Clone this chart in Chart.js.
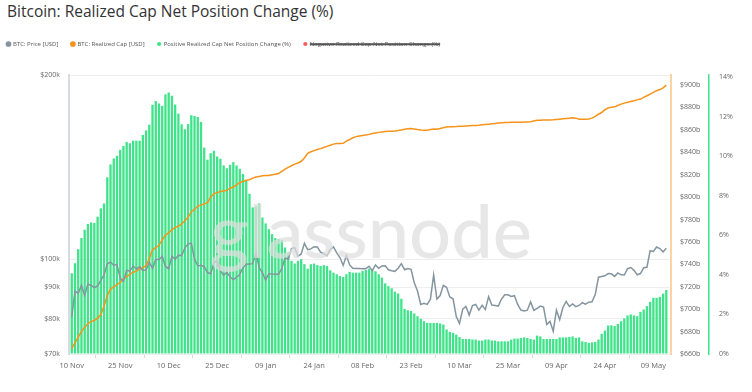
<!DOCTYPE html>
<html lang="en">
<head>
<meta charset="utf-8">
<title>Bitcoin: Realized Cap Net Position Change (%)</title>
<script src="https://cdn.jsdelivr.net/npm/chart.js"></script>
<style>
  html, body { margin: 0; padding: 0; background: #fff; overflow: hidden; }
  #wrap { position: relative; width: 752px; height: 392px; overflow: hidden; }
  #title { position: absolute; left: 7px; top: 0; font: 15.5px "Open Sans", sans-serif; color: #333; white-space: nowrap; }
  #chart { position: absolute; left: -6px; top: 0; }
</style>
</head>
<body>
<div id="wrap">
  <div id="title">Bitcoin: Realized Cap Net Position Change (%)</div>
  <canvas id="chart" width="758" height="392"></canvas>
</div>
<script>
// daily values, 10 Nov 2024 .. 13 May 2025 (index 0 = 10 Nov)
const startDate = '2024-11-10';
const tickLabels = ['10 Nov', '25 Nov', '10 Dec', '25 Dec', '09 Jan', '24 Jan', '08 Feb',
  '23 Feb', '10 Mar', '25 Mar', '09 Apr', '24 Apr', '09 May'];
const priceTicks = [70000, 80000, 90000, 100000, 200000];

// BTC price, USD
const price = [
  80470, 88700, 87950, 90580, 87250, 91070, 90600, 89850, 90460, 92310,
  94290, 98320, 98900, 97780, 98010, 93100, 91990, 95900, 95640, 97460,
  96400, 97200, 95840, 96000, 98770, 96590, 99920, 99920, 101170, 97320,
  96490, 101130, 100040, 101460, 101370, 104300, 106030, 106140, 100040, 97490,
  97760, 97220, 95100, 94690, 98680, 99430, 95800, 94160, 95160, 93530,
  92640, 93430, 94420, 96890, 98110, 98240, 98350, 102260, 96920, 95040,
  92490, 94700, 94570, 94490, 94510, 96530, 100500, 99990, 104080, 104450,
  101090, 102000, 106150, 103650, 103960, 104820, 104710, 102680, 102090, 101330,
  103730, 104740, 102410, 100650, 97690, 101400, 97870, 96620, 96550, 96530,
  96480, 96500, 97400, 95770, 97870, 96620, 97510, 97570, 96120, 95780,
  95540, 96640, 98330, 96130, 96570, 96280, 91550, 88740, 84350, 84700,
  84370, 86030, 94250, 86060, 87220, 90620, 89960, 86740, 86150, 80600,
  78530, 82860, 83720, 81070, 83970, 84340, 82580, 84080, 82720, 86850,
  84170, 84040, 83830, 86080, 87500, 87470, 86900, 87180, 84350, 82600,
  82330, 82550, 85170, 82490, 83100, 83840, 83500, 78210, 79140, 76270,
  82570, 79630, 83400, 85290, 83740, 84540, 83670, 84030, 84900, 84450,
  85060, 85170, 87520, 93440, 93700, 93940, 94720, 94650, 93750, 94980,
  94280, 94200, 96490, 96910, 95890, 94320, 94750, 96830, 97030, 103260,
  102970, 104700, 104110, 102800, 104170
];

// realized cap, billions USD
const realizedCap = [
  665, 670, 675, 680, 684, 687, 689, 690, 692, 695,
  703, 712, 718, 720, 722, 724, 727, 729, 731, 733,
  734, 736, 737, 739, 745, 753, 755, 757, 762, 766,
  768, 771, 773, 774, 776, 779, 782, 787, 789, 792,
  793, 794, 795, 800, 803, 804, 805, 805.5, 806, 808,
  809, 811, 813, 814, 815, 815.5, 817, 818, 818.5, 819,
  819.2, 819.4, 820, 820.5, 821, 823, 825, 826.5, 828, 829.5,
  830.5, 832, 835, 839, 840.5, 841.5, 842.5, 843.3, 844.3, 845.3,
  846.3, 847.3, 847.8, 847.9, 848, 850, 851.4, 853, 854, 854.5,
  855, 855.5, 856, 856.8, 857.3, 857.8, 858.2, 858.5, 858.7, 858.9,
  859.1, 859.5, 860, 860.5, 861, 861.2, 860.8, 860.3, 859.9, 859.7,
  859.7, 860.3, 860.8, 860.6, 861.2, 862, 862.7, 862.8, 862.9, 863,
  863.2, 863.3, 863.5, 863.7, 863.9, 864, 864.2, 864.5, 864.8, 865.1,
  865.4, 865.7, 866.1, 866.4, 866.6, 866.7, 866.8, 866.8, 866.8, 866.9,
  867, 867.1, 867.3, 868, 868.7, 868.7, 868.8, 868.8, 868.9, 869,
  869.3, 869.6, 869.9, 870.2, 870.5, 870.8, 870.5, 869.6, 869.5, 869.6,
  869.8, 870.5, 872, 874, 875.5, 878, 879.6, 880.2, 880.6, 881.8,
  883, 883.9, 884.6, 885.4, 886, 886.8, 887.5, 889, 890.5, 892,
  893.5, 895, 896, 897.5, 900
];

// positive realized cap net position change, %
const positiveChange = [
  4.08, 4.59, 5.30, 5.86, 6.28, 6.57, 6.65, 6.62, 6.94, 7.36,
  7.61, 8.93, 9.58, 9.88, 10.02, 10.32, 10.51, 10.71, 10.65, 10.78,
  10.78, 10.78, 11.07, 11.30, 11.59, 12.59, 12.78, 12.66, 12.54, 13.13,
  13.22, 13.05, 12.61, 12.15, 11.61, 11.36, 11.62, 12.07, 12.03, 11.98,
  11.73, 10.43, 9.82, 10.15, 10.27, 9.98, 9.87, 9.53, 9.39, 9.56,
  9.70, 9.53, 9.36, 9.10, 8.75, 8.10, 7.41, 7.46, 7.61, 6.90,
  6.60, 6.31, 6.06, 5.86, 5.81, 5.76, 5.38, 5.13, 4.71, 4.57,
  4.71, 4.79, 4.54, 4.31, 4.54, 4.57, 4.49, 4.45, 4.49, 4.45,
  4.23, 4.11, 4.03, 3.94, 3.89, 4.03, 4.15, 4.11, 4.11, 4.11,
  4.20, 4.25, 4.31, 4.25, 4.18, 4.03, 3.86, 3.57, 3.43, 3.32,
  3.15, 3.06, 2.79, 2.28, 2.21, 2.17, 2.05, 1.91, 1.78, 1.66,
  1.57, 1.57, 1.57, 1.57, 1.54, 1.49, 1.24, 1.12, 1.07, 0.98,
  0.86, 0.76, 0.76, 0.76, 0.73, 0.73, 0.68, 0.68, 0.73, 0.73,
  0.68, 0.68, 0.64, 0.64, 0.64, 0.64, 0.73, 0.78, 0.78, 0.81,
  0.84, 0.81, 0.76, 0.73, 0.93, 0.89, 0.76, 0.76, 0.76, 0.76,
  0.76, 0.84, 0.84, 0.84, 0.86, 0.89, 0.81, 0.84, 0.64, 0.61,
  0.56, 0.59, 0.61, 0.73, 1.02, 1.19, 1.44, 1.45, 1.41, 1.52,
  1.66, 1.80, 1.95, 2.00, 1.95, 1.91, 2.13, 2.25, 2.42, 2.64,
  2.84, 2.84, 2.89, 3.05, 3.23
];

// no negative days in this window
const negativeChange = [];

const FONT = 'Open Sans';
const toXY = arr => arr.map((v, i) => ({ x: i, y: v }));

const watermark = {
  id: 'watermark',
  afterDatasetsDraw(chart) {
    const ctx = chart.ctx;
    ctx.save();
    ctx.font = '500 74px Lato';
    ctx.fillStyle = 'rgba(222, 222, 222, 0.72)';
    ctx.textAlign = 'center';
    ctx.fillText('glassnode', 377, 234);
    ctx.restore();
  }
};

// push the plot down below the legend
const legendGap = {
  id: 'legendGap',
  beforeInit(chart) {
    const fit = chart.legend.fit;
    chart.legend.fit = function () {
      fit.call(this);
      this.height += 18;
    };
  }
};

new Chart(document.getElementById('chart'), {
  type: 'bar',
  data: {
    datasets: [
      {
        type: 'line', label: 'BTC: Price [USD]', data: toXY(price), yAxisID: 'y',
        borderColor: '#8595a0', backgroundColor: '#8595a0', borderWidth: 1.5,
        pointRadius: 0, tension: 0
      },
      {
        type: 'line', label: 'BTC: Realized Cap [USD]', data: toXY(realizedCap), yAxisID: 'y1',
        borderColor: '#f7931a', backgroundColor: '#f7931a', borderWidth: 1.5,
        pointRadius: 0, tension: 0
      },
      {
        label: 'Positive Realized Cap Net Position Change (%)', data: toXY(positiveChange), yAxisID: 'y2',
        backgroundColor: '#40e38a', borderWidth: 0, barPercentage: 0.72, categoryPercentage: 1
      },
      {
        label: 'Negative Realized Cap Net Position Change (%)', data: toXY(negativeChange), yAxisID: 'y2',
        backgroundColor: '#f25f5c', borderWidth: 0, hidden: true
      }
    ]
  },
  options: {
    responsive: false,
    animation: false,
    layout: { padding: { top: 28, bottom: 19, left: 0, right: 0 } },
    plugins: {
      tooltip: { enabled: false },
      legend: {
        position: 'top',
        align: 'start',
        labels: {
          usePointStyle: true, pointStyle: 'circle', boxWidth: 3, boxHeight: 3,
          padding: 13, color: '#555', font: { family: FONT, size: 6 }
        }
      }
    },
    scales: {
      x: {
        type: 'linear', min: -0.85, max: 185.45, offset: false,
        grid: { drawOnChartArea: false, drawTicks: true, tickLength: 4, color: '#d9d9d9' },
        border: { display: false },
        ticks: {
          stepSize: 15, includeBounds: false, autoSkip: false, maxRotation: 0, padding: 3,
          color: '#666', font: { family: FONT, size: 7.5 },
          callback: v => (v % 15 === 0 && tickLabels[v / 15]) ? tickLabels[v / 15] : null
        }
      },
      y: {
        type: 'logarithmic', position: 'left', min: 70000, max: 200000,
        afterFit: s => { s.width = 75; },
        grid: { color: '#eeeeee', drawTicks: false },
        border: { color: '#d6dce1', width: 2 },
        ticks: {
          autoSkip: false, padding: 9, color: '#666', font: { family: FONT, size: 7 },
          callback: v => priceTicks.includes(v) ? '$' + (v / 1000) + 'k' : null
        }
      },
      y1: {
        type: 'linear', position: 'right', weight: 1, min: 660, max: 909,
        afterFit: s => { s.width = 38; },
        grid: { drawOnChartArea: false, drawTicks: false },
        border: { color: '#fcd3a4', width: 2 },
        ticks: {
          stepSize: 20, includeBounds: false, padding: 9, color: '#666',
          font: { family: FONT, size: 7 }, callback: v => '$' + v + 'b'
        }
      },
      y2: {
        type: 'linear', position: 'right', weight: 2, min: 0, max: 14.1,
        afterFit: s => { s.width = 43; },
        grid: { drawOnChartArea: false, drawTicks: false },
        border: { color: '#40e38a', width: 1.5 },
        ticks: {
          stepSize: 2, includeBounds: false, padding: 10, color: '#666',
          font: { family: FONT, size: 7 }, callback: v => v + '%'
        }
      }
    }
  },
  plugins: [legendGap, watermark]
});
</script>
</body>
</html>
